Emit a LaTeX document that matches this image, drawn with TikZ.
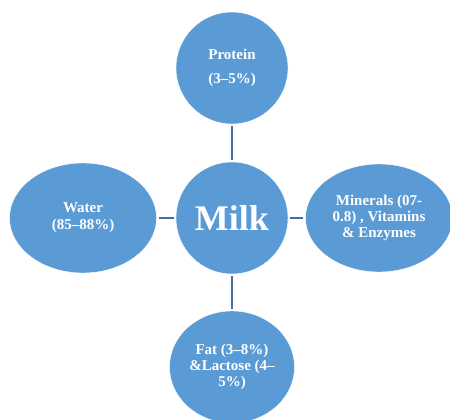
\documentclass[tikz,border=0pt]{standalone}
\usepackage{fontspec}
\setmainfont{Liberation Serif}
\usetikzlibrary{shapes.geometric}
\definecolor{milkblue}{HTML}{5B9BD5}
\definecolor{linkblue}{HTML}{41719C}

\begin{document}
\begin{tikzpicture}[x = 1pt, y = -1pt, every node/.style = {draw = white, fill = milkblue, text = white, font = \bfseries\fontsize{15}{16}\selectfont, align = center, inner sep = 0pt}]

	\useasboundingbox (0, 0) rectangle (450, 420);

	\node (Milk)     at (232, 218) [circle, minimum size = 112pt, font = \bfseries\fontsize{36}{40}\selectfont] {Milk};
	\node (Protein)  at (232,  68) [circle, minimum size = 112pt, font = \bfseries\fontsize{15}{24}\selectfont] {Protein\\(3--5\%)};
	\node (Water)    at ( 83, 218) [ellipse, minimum width = 147pt, minimum height = 110pt, font = \bfseries\fontsize{15}{17}\selectfont] {Water\\(85--88\%)};
	\node (Minerals) at (379, 218) [ellipse, minimum width = 147pt, minimum height = 108pt] {Minerals (07-\\0.8) , Vitamins\\\& Enzymes};
	\node (Fat)      at (232, 367) [ellipse, minimum width = 125pt, minimum height = 112pt] {Fat (3--8\%)\\\&Lactose (4--\\5\%)};

    \foreach \from/\to in {Milk/Protein, Milk/Water, Milk/Minerals, Milk/Fat}
    	\path (\from) edge [draw = linkblue, line width = 1.8pt, shorten < = 2pt, shorten > = 2pt] (\to);

\end{tikzpicture}
\end{document}
